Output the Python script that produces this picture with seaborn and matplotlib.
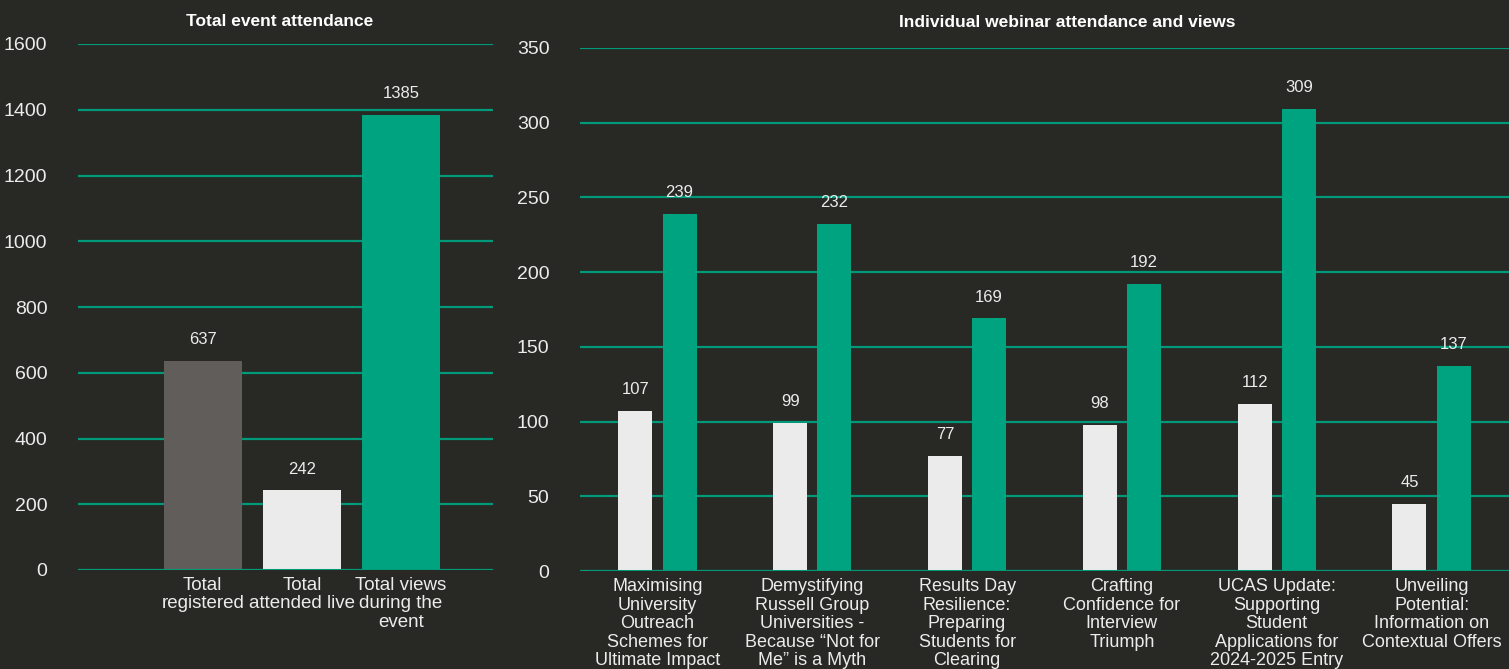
import matplotlib
matplotlib.use("Agg")
import matplotlib.pyplot as plt
import pandas as pd
import seaborn as sns

# Data
left_cats = ["Total\nregistered", "Total\nattended live", "Total views\nduring the\nevent"]
left_vals = [637, 242, 1385]
left_colors = ["#615d5b", "#ebebeb", "#00a380"]

webinars = [
    "Maximising\nUniversity\nOutreach\nSchemes for\nUltimate Impact",
    "Demystifying\nRussell Group\nUniversities -\nBecause \u201cNot for\nMe\u201d is a Myth",
    "Results Day\nResilience:\nPreparing\nStudents for\nClearing",
    "Crafting\nConfidence for\nInterview\nTriumph",
    "UCAS Update:\nSupporting\nStudent\nApplications for\n2024-2025 Entry",
    "Unveiling\nPotential:\nInformation on\nContextual Offers",
]
attended = [107, 99, 77, 98, 112, 45]
views = [239, 232, 169, 192, 309, 137]

bg = "#282824"
grid_col = "#009a7a"
text_col = "#ececec"

sns.set_style("dark")
plt.rcParams['font.family'] = ['Liberation Sans', 'DejaVu Sans']

df_left = pd.DataFrame({'cat': left_cats, 'value': left_vals})
df_right = pd.DataFrame({
    'webinar': webinars * 2,
    'kind': ['Attended'] * len(webinars) + ['Views'] * len(webinars),
    'value': attended + views,
})

fig = plt.figure(figsize=(15.09, 6.69), dpi=100, facecolor=bg)
ax1 = fig.add_axes([78 / 1509, 1 - 570 / 669, 415 / 1509, 526 / 669])
ax2 = fig.add_axes([580 / 1509, 1 - 571 / 669, 929 / 1509, 523 / 669])

# Left chart
sns.barplot(data=df_left, x='cat', y='value', hue='cat', palette=left_colors,
            width=0.79, legend=False, ax=ax1, saturation=1, linewidth=0)
ax1.set_ylim(0, 1600)
ax1.set_yticks(range(0, 1601, 200))
ax1.set_xlim(-1.26, 2.93)
ax1.set_title("Total event attendance", color='white', fontsize=12.5, fontweight='bold',
              x=0.487, y=1.0, pad=13)

# Right chart
sns.barplot(data=df_right, x='webinar', y='value', hue='kind',
            palette=["#ebebeb", "#00a380"], width=0.571, gap=0.23,
            legend=False, ax=ax2, saturation=1, linewidth=0)
ax2.set_ylim(0, 350)
ax2.set_yticks(range(0, 351, 50))
ax2.set_xlim(-0.5, 5.5)
ax2.set_title("Individual webinar attendance and views", color='white', fontsize=12.5,
              fontweight='bold', x=0.524, y=1.0, pad=15)

for ax in (ax1, ax2):
    ax.set_facecolor(bg)
    ax.set_xlabel('')
    ax.set_ylabel('')
    for s in ax.spines.values():
        s.set_visible(False)
    ax.set_axisbelow(True)
    ax.grid(axis='y', color=grid_col, linewidth=1.6)
    ax.grid(axis='x', visible=False)
    ax.axhline(0, color=grid_col, linewidth=2.2, zorder=3)
    ax.tick_params(axis='both', length=0, colors=text_col)
    ax.tick_params(axis='y', labelsize=14, pad=22)
    for c in ax.containers:
        ax.bar_label(c, padding=10, color=text_col, fontsize=12)

ax1.tick_params(axis='x', labelsize=13.5, pad=5)
for lbl in ax1.get_xticklabels():
    lbl.set_linespacing(1.1)

ax2.tick_params(axis='x', labelsize=13, pad=5)
for lbl in ax2.get_xticklabels():
    lbl.set_linespacing(1.12)

fig.savefig("out.png", dpi=100, facecolor=bg)
